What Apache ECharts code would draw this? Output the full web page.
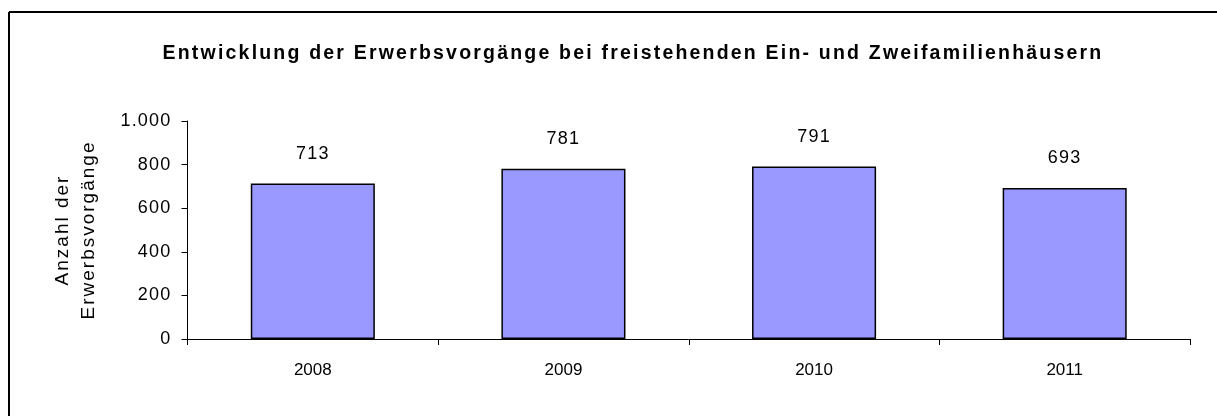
<!DOCTYPE html>
<html><head><meta charset="utf-8">
<script src="https://cdn.jsdelivr.net/npm/echarts@6/dist/echarts.min.js"></script>
<style>html,body{margin:0;padding:0;background:#fff}#c{width:1217px;height:416px}</style>
</head><body><div id="c"></div>
<script>
const titleText = 'Entwicklung der Erwerbsvorgänge bei freistehenden Ein- und Zweifamilienhäusern';
const categories = ['2008', '2009', '2010', '2011'];
const values = [713, 781, 791, 693];
const yAxisName = 'Anzahl der\nErwerbsvorgänge';

// Excel-like wider character spacing for some texts (keyed by font)
(function () {
  const orig = CanvasRenderingContext2D.prototype.fillText;
  CanvasRenderingContext2D.prototype.fillText = function (t, x, y, m) {
    const f = this.font || '';
    let ls = '0px';
    if (f.indexOf('bold') >= 0) ls = '2.2px';
    else if (f.indexOf('19px') >= 0) ls = '2px';
    else if (f.indexOf('18px') >= 0) ls = '1.2px';
    const prev = this.letterSpacing;
    this.letterSpacing = ls;
    const r = orig.call(this, t, x, y);
    this.letterSpacing = prev;
    return r;
  };
})();

const chart = echarts.init(document.getElementById('c'), null, {renderer: 'canvas'});
const fmt = v => v >= 1000 ? '1.000' : String(v);
chart.setOption({
  animation: false,
  backgroundColor: '#fff',
  title: {
    text: titleText, left: 628, top: 39, textAlign: 'center',
    textStyle: {fontFamily: 'Liberation Sans', fontWeight: 'bold', fontSize: 19.5, color: '#000'}
  },
  graphic: [
    {type: 'line', shape: {x1: 9, y1: 12, x2: 1217, y2: 12}, style: {stroke: '#000', lineWidth: 2}},
    {type: 'line', shape: {x1: 9, y1: 12, x2: 9, y2: 416}, style: {stroke: '#000', lineWidth: 2}}
  ],
  grid: {left: 187.5, right: 27, top: 121, bottom: 77, containLabel: false},
  xAxis: {
    type: 'category', data: categories,
    axisLine: {lineStyle: {color: '#000', width: 1}},
    axisTick: {show: true, length: 6, lineStyle: {color: '#000'}},
    axisLabel: {color: '#000', fontFamily: 'Liberation Sans', fontSize: 17, margin: 23}
  },
  yAxis: {
    type: 'value', min: 0, max: 1000, interval: 200,
    name: yAxisName, nameLocation: 'middle', nameGap: 86, nameRotate: 90,
    nameTextStyle: {color: '#000', fontFamily: 'Liberation Sans', fontSize: 19, lineHeight: 26},
    axisLine: {show: true, lineStyle: {color: '#000', width: 1}},
    axisTick: {show: true, length: 6, lineStyle: {color: '#000'}},
    splitLine: {show: false},
    axisLabel: {color: '#000', fontFamily: 'Liberation Sans', fontSize: 18, margin: 16, formatter: fmt}
  },
  series: [{
    type: 'bar', data: values, barWidth: '49.5%',
    itemStyle: {color: '#9999FF', borderColor: '#000', borderWidth: 1.5},
    label: {show: true, position: 'top', distance: 21, color: '#000', fontFamily: 'Liberation Sans', fontSize: 18}
  }]
});
</script></body></html>
